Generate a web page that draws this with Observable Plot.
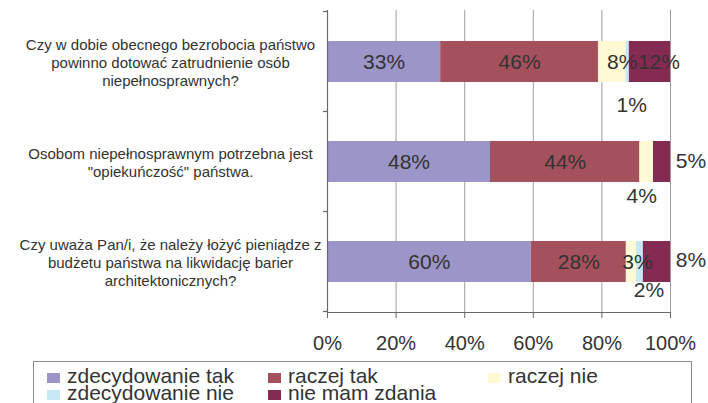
<!DOCTYPE html>
<html><head><meta charset="utf-8">
<script src="https://cdn.jsdelivr.net/npm/d3@7"></script>
<script src="https://cdn.jsdelivr.net/npm/@observablehq/plot@0.6"></script>
<style>
html,body{margin:0;padding:0;background:#fff;}
#wrap{position:relative;width:708px;height:403px;overflow:hidden;font-family:"Liberation Sans",Arial,sans-serif;color:#333;}
#chart svg{display:block}
#legend{position:absolute;left:33px;top:361px;width:659px;height:60px;border:1px solid #8c8c8c;box-sizing:border-box}
.sw{position:absolute;width:13px;height:10px}
.lt{position:absolute;font-size:21px;line-height:17px;white-space:nowrap}
</style></head><body><div id="wrap"><div id="chart"></div><div id="legend"></div></div>
<script>
// ---- data ----
const questions = [
  "Czy w dobie obecnego bezrobocia państwo\npowinno dotować zatrudnienie osób\nniepełnosprawnych?",
  "Osobom niepełnosprawnym potrzebna jest\n\"opiekuńczość\" państwa.",
  "Czy uważa Pan/i, że należy łożyć pieniądze z\nbudżetu państwa na likwidację barier\narchitektonicznych?"
];
const series = ["zdecydowanie tak", "raczej tak", "raczej nie", "zdecydowanie nie", "nie mam zdania"];
const valuesQ1 = [33, 46, 8, 1, 12];
const valuesQ2 = [48, 44, 4, 0, 5];
const valuesQ3 = [60, 28, 3, 2, 8];
const xTicks = [0, 0.2, 0.4, 0.6, 0.8, 1];
const xTickLabels = ["0%", "20%", "40%", "60%", "80%", "100%"];
const colors = ["#9b95c8", "#a5515d", "#fffad3", "#c7e9f6", "#852a53"];

// ---- layout tweaks for the data labels (pixel nudges, by question and series index) ----
const labelNudges = {
  "0-2": [10, 0], "0-3": [4, 43], "0-4": [9, 0],
  "1-2": [-5, 34], "1-4": [29, -1],
  "2-2": [6, 0], "2-3": [9, 28], "2-4": [34, -2]
};

const allValues = [valuesQ1, valuesQ2, valuesQ3];
const data = [];
questions.forEach((q, i) => series.forEach((s, j) => data.push({q, series: s, value: allValues[i][j]})));

// label midpoints from the stacked shares
const labels = [];
questions.forEach((q, i) => {
  const vals = allValues[i];
  const total = d3.sum(vals);
  let acc = 0;
  vals.forEach((v, j) => {
    const mid = (acc + v / 2) / total;
    acc += v;
    if (v > 0) {
      const n = labelNudges[i + "-" + j] || [0, 0];
      labels.push({q, mid, text: v + "%", dx: n[0], dy: n[1]});
    }
  });
});

const gridColor = "#a39b9b";
const axisColor = "#6f6767";
const textColor = "#333333";

const plot = Plot.plot({
  width: 708,
  height: 360,
  marginLeft: 327,
  marginRight: 38,
  marginTop: 10,
  marginBottom: 48,
  style: {fontFamily: "'Liberation Sans', Arial, sans-serif", background: "white", color: textColor, overflow: "visible"},
  x: {domain: [0, 1]},
  y: {domain: questions, paddingInner: 0.593, paddingOuter: 0.2965},
  color: {domain: series, range: colors},
  marks: [
    Plot.ruleX(xTicks.slice(1), {stroke: gridColor, strokeWidth: 1}),
    Plot.barX(data, {x: "value", y: "q", fill: "series", offset: "normalize"}),
    Plot.ruleX([0], {stroke: axisColor, strokeWidth: 1.2}),
    Plot.frame({anchor: "bottom", stroke: axisColor, strokeWidth: 1.2}),
    Plot.axisX({ticks: xTicks, tickFormat: (d, i) => xTickLabels[xTicks.indexOf(d)], tickSize: 6, tickPadding: 17, fontSize: 20, stroke: axisColor, fill: textColor, label: null}),
    Plot.axisY({tickSize: 0, tickPadding: 157, textAnchor: "middle", fontSize: 15, lineHeight: 1.2, fill: textColor, label: null}),
    ...labels.map(l => Plot.text([l], {x: "mid", y: "q", text: "text", dx: l.dx, dy: l.dy, fontSize: 21, fill: textColor}))
  ]
});

// category boundary ticks on the left axis, from the library's band scale
const ys = plot.scale("y");
const half = (ys.step - ys.bandwidth) / 2;
const bounds = ys.domain.map(q => ys.apply(q) - half);
bounds.push(ys.apply(ys.domain[ys.domain.length - 1]) + ys.bandwidth + half);
const x0 = plot.scale("x").apply(0);
d3.select(plot).append("g").selectAll("line").data(bounds).join("line")
  .attr("x1", x0 - 4).attr("x2", x0).attr("y1", d => d).attr("y2", d => d)
  .attr("stroke", axisColor).attr("stroke-width", 1.2);

document.getElementById("chart").appendChild(plot);

// legend
const legendPos = [[47, 373], [268, 373], [488, 373], [47, 390], [268, 390]];
const wrap = document.getElementById("wrap");
series.forEach((s, i) => {
  const [lx, ly] = legendPos[i];
  const sw = document.createElement("div");
  sw.className = "sw";
  sw.style.left = lx + "px"; sw.style.top = ly + "px"; sw.style.background = colors[i];
  wrap.appendChild(sw);
  const t = document.createElement("div");
  t.className = "lt";
  t.textContent = s;
  t.style.left = (lx + 20) + "px"; t.style.top = (ly - 6) + "px";
  wrap.appendChild(t);
});
</script>
</body></html>
